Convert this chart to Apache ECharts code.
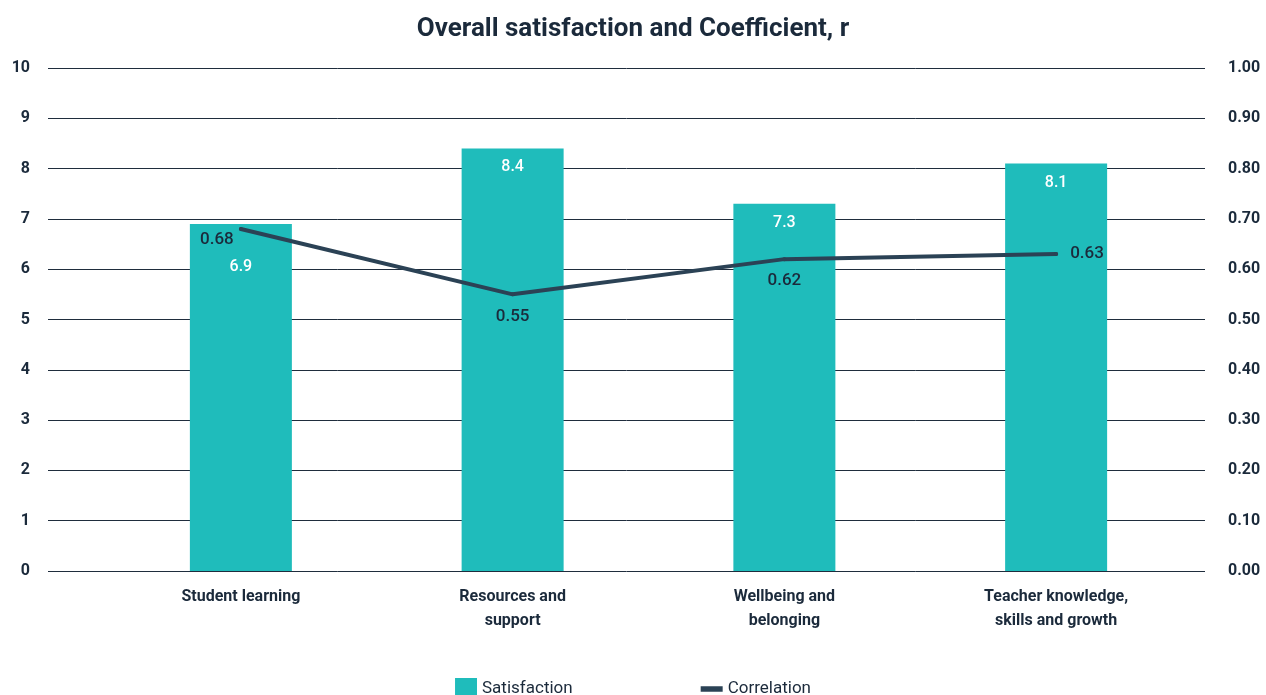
<!DOCTYPE html>
<html>
<head>
<meta charset="utf-8">
<script src="https://cdn.jsdelivr.net/npm/echarts@6/dist/echarts.min.js"></script>
<style>
html,body{margin:0;padding:0;background:#fff;}
#chart{width:1266px;height:695px;}
</style>
</head>
<body>
<div id="chart"></div>
<script>
const categories = ['Student learning', 'Resources and\nsupport', 'Wellbeing and\nbelonging', 'Teacher knowledge,\nskills and growth'];
const satisfaction = [6.9, 8.4, 7.3, 8.1];
const correlation = [0.68, 0.55, 0.62, 0.63];
const leftTicks = {min: 0, max: 10, interval: 1};
const rightTicks = {min: 0, max: 1, interval: 0.1};

const TEAL = '#1fbcbb';
const NAVY = '#2b4255';
const TEXT = '#1b2a3b';
const FONT = 'Roboto';

const barLabelDist = [35, 11, 11, 11];
const lineLabelCfg = [
  {position: 'bottom', distance: 0, offset: [-24, 0]},
  {position: 'bottom', distance: 12},
  {position: 'bottom', distance: 11},
  {position: 'right', distance: 12}
];

const chart = echarts.init(document.getElementById('chart'), null, {renderer: 'canvas'});
const gridTop = 68, gridBottom = 124;
const option = {
  animation: false,
  backgroundColor: '#ffffff',
  title: {
    text: 'Overall satisfaction and Coefficient, r',
    left: 'center', top: 11,
    textStyle: {fontFamily: FONT, fontSize: 26, fontWeight: 'bold', color: TEXT}
  },
  legend: {
    bottom: -10, left: 'center', itemGap: 128, itemWidth: 22, itemHeight: 22,
    textStyle: {fontFamily: FONT, fontSize: 17, color: TEXT},
    data: [
      {name: 'Satisfaction', icon: 'rect'},
      {name: 'Correlation', icon: 'path://M0,0 L24,0 L24,6 L0,6 Z'}
    ]
  },
  grid: [
    {left: 48, right: 61, top: gridTop, bottom: gridBottom, containLabel: false},
    {left: 105, right: 74, top: gridTop, bottom: gridBottom, containLabel: false}
  ],
  xAxis: [
    {type: 'category', gridIndex: 0, data: categories, show: false},
    {type: 'category', gridIndex: 1, data: categories,
     axisLine: {show: false}, axisTick: {show: false},
     axisLabel: {fontFamily: FONT, fontSize: 16, fontWeight: 'bold', color: TEXT, margin: 14, lineHeight: 24, interval: 0}}
  ],
  yAxis: [
    {type: 'value', gridIndex: 0, position: 'left', min: leftTicks.min, max: leftTicks.max, interval: leftTicks.interval,
     axisLine: {show: false}, axisTick: {show: false},
     splitLine: {show: true, lineStyle: {color: '#1f2d3d', width: 1}},
     axisLabel: {fontFamily: FONT, fontSize: 16, fontWeight: 'bold', color: TEXT, margin: 18}},
    {type: 'value', gridIndex: 0, position: 'right', min: rightTicks.min, max: rightTicks.max, interval: rightTicks.interval,
     axisLine: {show: false}, axisTick: {show: false}, splitLine: {show: false},
     axisLabel: {fontFamily: FONT, fontSize: 16, fontWeight: 'bold', color: TEXT, margin: 23,
       formatter: v => v.toFixed(2)}},
    {type: 'value', gridIndex: 1, min: leftTicks.min, max: leftTicks.max, show: false, splitLine: {show: false}},
    {type: 'value', gridIndex: 1, min: rightTicks.min, max: rightTicks.max, show: false, splitLine: {show: false}}
  ],
  series: [
    {
      name: 'Satisfaction', type: 'bar', xAxisIndex: 1, yAxisIndex: 2, barWidth: 102,
      itemStyle: {color: TEAL},
      data: satisfaction.map((v, i) => ({
        value: v,
        label: {show: true, position: 'insideTop', distance: barLabelDist[i],
          fontFamily: FONT, fontSize: 16, fontWeight: 500, color: '#ffffff'}
      })),
      z: 2
    },
    {
      name: 'Correlation', type: 'line', xAxisIndex: 1, yAxisIndex: 3,
      symbol: 'circle', symbolSize: 4, showSymbol: true,
      lineStyle: {color: NAVY, width: 4, cap: 'round'},
      itemStyle: {color: NAVY},
      data: correlation.map((v, i) => ({
        value: v,
        label: Object.assign({show: true, fontFamily: FONT, fontSize: 17, fontWeight: 500, color: TEXT,
          formatter: p => p.value.toFixed(2)}, lineLabelCfg[i])
      })),
      z: 3
    }
  ]
};
chart.setOption(option);
</script>
</body>
</html>
